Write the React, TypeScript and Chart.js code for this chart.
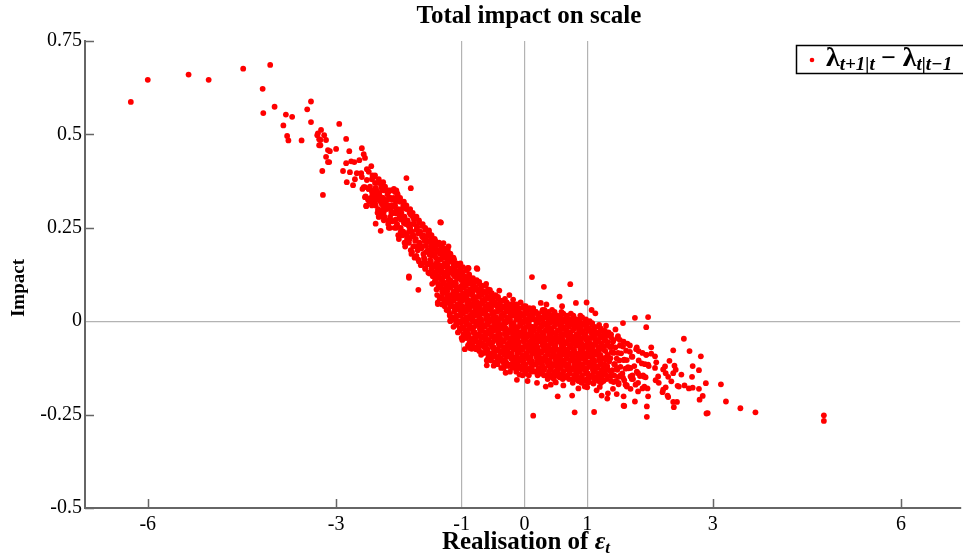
import React, { useEffect, useRef } from "react";
import { Chart, registerables } from "chart.js";

Chart.register(...registerables);

const titleText = "Total impact on scale";
const yAxisTitle = "Impact";
const xAxisTitle = "Realisation of ";
const xTicks = [-6, -3, -1, 0, 1, 3, 6];
const yTicks = [-0.5, -0.25, 0, 0.25, 0.5, 0.75];
const xGridValues = [-1, 0, 1];
const yGridValues = [0];

// far left sparse points
const farLeft: [number, number][] = [
  [-6.27, 0.587], [-6.0, 0.646], [-5.35, 0.66], [-5.03, 0.646], [-4.48, 0.676], [-4.05, 0.686],
  [-4.17, 0.622], [-4.16, 0.557], [-3.98, 0.574], [-3.8, 0.553], [-3.7, 0.547], [-3.84, 0.524],
  [-3.78, 0.496], [-3.76, 0.484], [-3.55, 0.484], [-3.46, 0.567], [-3.4, 0.588], [-3.4, 0.533],
];

// upper branch, -3.4 .. -2.0
const upperBranch: [number, number][] = [
  [-3.24, 0.512], [-3.19, 0.498], [-3.3, 0.498], [-3.25, 0.485], [-3.16, 0.485], [-3.25, 0.471],
  [-3.13, 0.458], [-3.1, 0.455], [-3.0, 0.461], [-3.16, 0.44], [-3.13, 0.426], [-3.22, 0.402],
  [-3.21, 0.338], [-2.95, 0.528], [-2.84, 0.488], [-2.79, 0.455], [-2.59, 0.463], [-2.56, 0.447],
  [-2.54, 0.437], [-2.84, 0.423], [-2.76, 0.428], [-2.71, 0.426], [-2.63, 0.431], [-2.89, 0.402],
  [-2.78, 0.399], [-2.83, 0.372], [-2.73, 0.364], [-2.7, 0.38], [-2.67, 0.396], [-2.6, 0.396],
  [-2.59, 0.386], [-2.51, 0.407], [-2.44, 0.415], [-2.51, 0.378], [-2.4, 0.386], [-2.25, 0.372],
  [-2.56, 0.359], [-2.48, 0.354], [-2.37, 0.356], [-2.27, 0.351], [-2.16, 0.348], [-2.06, 0.346],
  [-2.54, 0.332], [-2.49, 0.327], [-2.38, 0.335], [-2.38, 0.316], [-2.52, 0.308], [-2.25, 0.33],
  [-2.16, 0.327], [-2.27, 0.313], [-2.33, 0.297], [-2.24, 0.292], [-2.32, 0.279], [-2.13, 0.305],
  [-2.11, 0.289], [-2.05, 0.289], [-2.14, 0.279], [-3.29, 0.503], [-3.27, 0.487], [-3.27, 0.471],
  [-3.11, 0.426],
];

// band readings, -2.6 .. -0.7
const midBand: [number, number][] = [
  [-2.58, 0.354], [-2.54, 0.359], [-2.48, 0.354], [-2.43, 0.347], [-2.37, 0.356], [-2.34, 0.345],
  [-2.27, 0.359], [-2.22, 0.352], [-2.15, 0.35], [-2.08, 0.354], [-2.04, 0.35], [-2.03, 0.343],
  [-2.53, 0.334], [-2.49, 0.325], [-2.45, 0.33], [-2.4, 0.321], [-2.32, 0.325], [-2.26, 0.327],
  [-2.24, 0.316], [-2.19, 0.325], [-2.15, 0.33], [-2.11, 0.325], [-2.05, 0.321], [-1.99, 0.321],
  [-2.52, 0.309], [-2.32, 0.298], [-2.27, 0.294], [-2.24, 0.303], [-2.16, 0.309], [-2.13, 0.3],
  [-2.08, 0.307], [-2.05, 0.294], [-2.0, 0.298], [-1.96, 0.3], [-1.88, 0.383], [-1.81, 0.356],
  [-2.32, 0.28], [-2.37, 0.261], [-2.29, 0.242], [-2.16, 0.25], [-2.11, 0.267], [-2.05, 0.272],
  [-2.03, 0.258], [-1.97, 0.272], [-1.92, 0.263], [-1.84, 0.254], [-1.81, 0.285], [-1.76, 0.272],
  [-1.71, 0.254], [-1.84, 0.24], [-1.89, 0.232], [-1.79, 0.227], [-1.68, 0.236], [-1.63, 0.227],
  [-1.52, 0.243], [-1.58, 0.218], [-1.5, 0.214], [-1.42, 0.205], [-1.34, 0.265], [-1.29, 0.209],
  [-1.23, 0.191], [-1.15, 0.169], [-1.13, 0.151], [-1.05, 0.133], [-1.84, 0.12], [-0.89, 0.142],
  [-0.76, 0.142], [-1.84, 0.116], [-1.69, 0.084], [-1.38, 0.046], [-1.18, 0.002], [-1.33, 0.264],
];

// dense band, first layer (strips centred on x.x5)
const denseBand: [number, number][] = [
  [-2.48, 0.4], [-2.43, 0.38], [-2.46, 0.36], [-2.42, 0.34], [-2.47, 0.32],
  [-2.38, 0.39], [-2.33, 0.37], [-2.36, 0.35], [-2.32, 0.33], [-2.37, 0.31], [-2.34, 0.29],
  [-2.28, 0.37], [-2.23, 0.35], [-2.26, 0.33], [-2.22, 0.31], [-2.27, 0.29], [-2.24, 0.27],
  [-2.18, 0.35], [-2.13, 0.33], [-2.16, 0.31], [-2.12, 0.29], [-2.17, 0.27], [-2.14, 0.25],
  [-2.08, 0.35], [-2.03, 0.33], [-2.06, 0.31], [-2.02, 0.29], [-2.07, 0.27], [-2.04, 0.25], [-2.01, 0.23],
  [-1.98, 0.33], [-1.93, 0.31], [-1.96, 0.29], [-1.92, 0.27], [-1.97, 0.25], [-1.94, 0.23], [-1.91, 0.21],
  [-1.88, 0.31], [-1.83, 0.29], [-1.86, 0.27], [-1.82, 0.25], [-1.87, 0.23], [-1.84, 0.21], [-1.81, 0.19],
  [-1.78, 0.29], [-1.73, 0.275], [-1.76, 0.26], [-1.72, 0.245], [-1.77, 0.23], [-1.74, 0.215], [-1.71, 0.2], [-1.79, 0.185], [-1.75, 0.17],
  [-1.68, 0.27], [-1.63, 0.255], [-1.66, 0.24], [-1.62, 0.225], [-1.67, 0.21], [-1.64, 0.195], [-1.61, 0.18], [-1.69, 0.165], [-1.65, 0.15],
  [-1.58, 0.25], [-1.53, 0.238], [-1.56, 0.226], [-1.52, 0.214], [-1.57, 0.202], [-1.54, 0.19], [-1.51, 0.178], [-1.59, 0.166], [-1.55, 0.154], [-1.58, 0.142], [-1.53, 0.13],
  [-1.48, 0.23], [-1.43, 0.22], [-1.46, 0.21], [-1.42, 0.2], [-1.47, 0.19], [-1.44, 0.18], [-1.41, 0.17], [-1.49, 0.16], [-1.45, 0.15], [-1.48, 0.14], [-1.43, 0.13], [-1.46, 0.12], [-1.42, 0.11], [-1.47, 0.1],
  [-1.36, 0.21], [-1.32, 0.2], [-1.37, 0.19], [-1.34, 0.18], [-1.31, 0.17], [-1.39, 0.16], [-1.35, 0.15], [-1.38, 0.14], [-1.33, 0.13], [-1.36, 0.12], [-1.32, 0.11], [-1.37, 0.1], [-1.34, 0.09], [-1.31, 0.08], [-1.39, 0.07], [-1.35, 0.06], [-1.38, 0.05],
  [-1.21, 0.2], [-1.29, 0.19], [-1.25, 0.18], [-1.28, 0.17], [-1.23, 0.16], [-1.26, 0.15], [-1.22, 0.14], [-1.27, 0.13], [-1.24, 0.12], [-1.21, 0.11], [-1.29, 0.1], [-1.25, 0.09], [-1.28, 0.08], [-1.23, 0.07], [-1.26, 0.06], [-1.22, 0.05], [-1.27, 0.04], [-1.24, 0.03],
  [-1.18, 0.18], [-1.13, 0.17], [-1.16, 0.16], [-1.12, 0.15], [-1.17, 0.14], [-1.14, 0.13], [-1.11, 0.12], [-1.19, 0.11], [-1.15, 0.1], [-1.18, 0.09], [-1.13, 0.08], [-1.16, 0.07], [-1.12, 0.06], [-1.17, 0.05], [-1.14, 0.04], [-1.11, 0.03], [-1.19, 0.02], [-1.15, 0.01], [-1.18, 0.0],
  [-1.06, 0.15], [-1.02, 0.14], [-1.07, 0.13], [-1.04, 0.12], [-1.01, 0.11], [-1.09, 0.1], [-1.05, 0.09], [-1.08, 0.08], [-1.03, 0.07], [-1.06, 0.06], [-1.02, 0.05], [-1.07, 0.04], [-1.04, 0.03], [-1.01, 0.02], [-1.09, 0.01], [-1.05, 0.0], [-1.08, -0.01], [-1.03, -0.02], [-1.06, -0.03],
  [-0.91, 0.14], [-0.99, 0.13], [-0.95, 0.12], [-0.98, 0.11], [-0.93, 0.1], [-0.96, 0.09], [-0.92, 0.08], [-0.97, 0.07], [-0.94, 0.06], [-0.91, 0.05], [-0.99, 0.04], [-0.95, 0.03], [-0.98, 0.02], [-0.93, 0.01], [-0.96, 0.0], [-0.92, -0.01], [-0.97, -0.02], [-0.94, -0.03], [-0.91, -0.04], [-0.99, -0.05],
  [-0.88, 0.12], [-0.83, 0.11], [-0.86, 0.1], [-0.82, 0.09], [-0.87, 0.08], [-0.84, 0.07], [-0.81, 0.06], [-0.89, 0.05], [-0.85, 0.04], [-0.88, 0.03], [-0.83, 0.02], [-0.86, 0.01], [-0.82, 0.0], [-0.87, -0.01], [-0.84, -0.02], [-0.81, -0.03], [-0.89, -0.04], [-0.85, -0.05], [-0.88, -0.06], [-0.83, -0.07],
  [-0.76, 0.11], [-0.72, 0.1], [-0.77, 0.09], [-0.74, 0.08], [-0.71, 0.07], [-0.79, 0.06], [-0.75, 0.05], [-0.78, 0.04], [-0.73, 0.03], [-0.76, 0.02], [-0.72, 0.01], [-0.77, 0.0], [-0.74, -0.01], [-0.71, -0.02], [-0.79, -0.03], [-0.75, -0.04], [-0.78, -0.05], [-0.73, -0.06], [-0.76, -0.07], [-0.72, -0.08],
  [-0.61, 0.1], [-0.69, 0.09], [-0.65, 0.08], [-0.68, 0.07], [-0.63, 0.06], [-0.66, 0.05], [-0.62, 0.04], [-0.67, 0.03], [-0.64, 0.02], [-0.61, 0.01], [-0.69, 0.0], [-0.65, -0.01], [-0.68, -0.02], [-0.63, -0.03], [-0.66, -0.04], [-0.62, -0.05], [-0.67, -0.06], [-0.64, -0.07], [-0.61, -0.08], [-0.69, -0.09],
  [-0.58, 0.08], [-0.53, 0.07], [-0.56, 0.06], [-0.52, 0.05], [-0.57, 0.04], [-0.54, 0.03], [-0.51, 0.02], [-0.59, 0.01], [-0.55, 0.0], [-0.58, -0.01], [-0.53, -0.02], [-0.56, -0.03], [-0.52, -0.04], [-0.57, -0.05], [-0.54, -0.06], [-0.51, -0.07], [-0.59, -0.08], [-0.55, -0.09], [-0.58, -0.1],
  [-0.46, 0.07], [-0.42, 0.06], [-0.47, 0.05], [-0.44, 0.04], [-0.41, 0.03], [-0.49, 0.02], [-0.45, 0.01], [-0.48, 0.0], [-0.43, -0.01], [-0.46, -0.02], [-0.42, -0.03], [-0.47, -0.04], [-0.44, -0.05], [-0.41, -0.06], [-0.49, -0.07], [-0.45, -0.08], [-0.48, -0.09], [-0.43, -0.1], [-0.46, -0.11],
  [-0.31, 0.06], [-0.39, 0.05], [-0.35, 0.04], [-0.38, 0.03], [-0.33, 0.02], [-0.36, 0.01], [-0.32, 0.0], [-0.37, -0.01], [-0.34, -0.02], [-0.31, -0.03], [-0.39, -0.04], [-0.35, -0.05], [-0.38, -0.06], [-0.33, -0.07], [-0.36, -0.08], [-0.32, -0.09], [-0.37, -0.1], [-0.34, -0.11], [-0.31, -0.12],
  [-0.28, 0.05], [-0.23, 0.04], [-0.26, 0.03], [-0.22, 0.02], [-0.27, 0.01], [-0.24, 0.0], [-0.21, -0.01], [-0.29, -0.02], [-0.25, -0.03], [-0.28, -0.04], [-0.23, -0.05], [-0.26, -0.06], [-0.22, -0.07], [-0.27, -0.08], [-0.24, -0.09], [-0.21, -0.1], [-0.29, -0.11], [-0.25, -0.12],
  [-0.16, 0.045], [-0.12, 0.035], [-0.17, 0.025], [-0.14, 0.015], [-0.11, 0.005], [-0.19, -0.005], [-0.15, -0.015], [-0.18, -0.025], [-0.13, -0.035], [-0.16, -0.045], [-0.12, -0.055], [-0.17, -0.065], [-0.14, -0.075], [-0.11, -0.085], [-0.19, -0.095], [-0.15, -0.105], [-0.18, -0.115], [-0.13, -0.125],
  [-0.01, 0.04], [-0.09, 0.03], [-0.05, 0.02], [-0.08, 0.01], [-0.03, 0.0], [-0.06, -0.01], [-0.02, -0.02], [-0.07, -0.03], [-0.04, -0.04], [-0.01, -0.05], [-0.09, -0.06], [-0.05, -0.07], [-0.08, -0.08], [-0.03, -0.09], [-0.06, -0.1], [-0.02, -0.11], [-0.07, -0.12], [-0.04, -0.13],
  [0.02, 0.04], [0.07, 0.03], [0.04, 0.02], [0.08, 0.01], [0.03, 0.0], [0.06, -0.01], [0.09, -0.02], [0.01, -0.03], [0.05, -0.04], [0.02, -0.05], [0.07, -0.06], [0.04, -0.07], [0.08, -0.08], [0.03, -0.09], [0.06, -0.1], [0.09, -0.11], [0.01, -0.12], [0.05, -0.13], [0.02, -0.14],
  [0.14, 0.035], [0.18, 0.025], [0.13, 0.015], [0.16, 0.005], [0.19, -0.005], [0.11, -0.015], [0.15, -0.025], [0.12, -0.035], [0.17, -0.045], [0.14, -0.055], [0.18, -0.065], [0.13, -0.075], [0.16, -0.085], [0.19, -0.095], [0.11, -0.105], [0.15, -0.115], [0.12, -0.125], [0.17, -0.135],
  [0.29, 0.03], [0.21, 0.02], [0.25, 0.01], [0.22, 0.0], [0.27, -0.01], [0.24, -0.02], [0.28, -0.03], [0.23, -0.04], [0.26, -0.05], [0.29, -0.06], [0.21, -0.07], [0.25, -0.08], [0.22, -0.09], [0.27, -0.1], [0.24, -0.11], [0.28, -0.12], [0.23, -0.13], [0.26, -0.14],
  [0.32, 0.03], [0.37, 0.02], [0.34, 0.01], [0.38, 0.0], [0.33, -0.01], [0.36, -0.02], [0.39, -0.03], [0.31, -0.04], [0.35, -0.05], [0.32, -0.06], [0.37, -0.07], [0.34, -0.08], [0.38, -0.09], [0.33, -0.1], [0.36, -0.11], [0.39, -0.12], [0.31, -0.13], [0.35, -0.145],
  [0.44, 0.03], [0.48, 0.02], [0.43, 0.01], [0.46, 0.0], [0.49, -0.01], [0.41, -0.02], [0.45, -0.03], [0.42, -0.04], [0.47, -0.05], [0.44, -0.06], [0.48, -0.07], [0.43, -0.08], [0.46, -0.09], [0.49, -0.1], [0.41, -0.11], [0.45, -0.12], [0.42, -0.13], [0.47, -0.14], [0.44, -0.15],
  [0.59, 0.025], [0.51, 0.015], [0.55, 0.005], [0.52, -0.005], [0.57, -0.015], [0.54, -0.025], [0.58, -0.035], [0.53, -0.045], [0.56, -0.055], [0.59, -0.065], [0.51, -0.075], [0.55, -0.085], [0.52, -0.095], [0.57, -0.105], [0.54, -0.115], [0.58, -0.125], [0.53, -0.135], [0.56, -0.15],
  [0.62, 0.02], [0.67, 0.01], [0.64, 0.0], [0.68, -0.01], [0.63, -0.02], [0.66, -0.03], [0.69, -0.04], [0.61, -0.05], [0.65, -0.06], [0.62, -0.07], [0.67, -0.08], [0.64, -0.09], [0.68, -0.1], [0.63, -0.11], [0.66, -0.12], [0.69, -0.13], [0.61, -0.14], [0.65, -0.15],
  [0.74, 0.02], [0.78, 0.01], [0.73, 0.0], [0.76, -0.01], [0.79, -0.02], [0.71, -0.03], [0.75, -0.04], [0.72, -0.05], [0.77, -0.06], [0.74, -0.07], [0.78, -0.08], [0.73, -0.09], [0.76, -0.1], [0.79, -0.11], [0.71, -0.12], [0.75, -0.13], [0.72, -0.14], [0.77, -0.155],
  [0.89, 0.015], [0.81, 0.005], [0.85, -0.005], [0.82, -0.015], [0.87, -0.025], [0.84, -0.035], [0.88, -0.045], [0.83, -0.055], [0.86, -0.065], [0.89, -0.075], [0.81, -0.085], [0.85, -0.095], [0.82, -0.105], [0.87, -0.115], [0.84, -0.125], [0.88, -0.135], [0.83, -0.145], [0.86, -0.16],
  [0.92, 0.01], [0.97, 0.0], [0.94, -0.01], [0.98, -0.02], [0.93, -0.03], [0.96, -0.04], [0.99, -0.05], [0.91, -0.06], [0.95, -0.07], [0.92, -0.08], [0.97, -0.09], [0.94, -0.1], [0.98, -0.11], [0.93, -0.12], [0.96, -0.13], [0.99, -0.14], [0.91, -0.15], [0.95, -0.16],
  [1.04, 0.0], [1.08, -0.01], [1.03, -0.02], [1.06, -0.03], [1.09, -0.04], [1.01, -0.05], [1.05, -0.06], [1.02, -0.07], [1.07, -0.08], [1.04, -0.09], [1.08, -0.1], [1.03, -0.11], [1.06, -0.12], [1.09, -0.13], [1.01, -0.14], [1.05, -0.15], [1.02, -0.16],
  [1.19, -0.01], [1.11, -0.02], [1.15, -0.03], [1.12, -0.04], [1.17, -0.05], [1.14, -0.06], [1.18, -0.07], [1.13, -0.08], [1.16, -0.09], [1.19, -0.1], [1.11, -0.11], [1.15, -0.12], [1.12, -0.13], [1.17, -0.14], [1.14, -0.15], [1.18, -0.16],
  [1.22, -0.02], [1.27, -0.03], [1.24, -0.04], [1.28, -0.05], [1.23, -0.06], [1.26, -0.07], [1.29, -0.08], [1.21, -0.09], [1.25, -0.1], [1.22, -0.11], [1.27, -0.12], [1.24, -0.13], [1.28, -0.14], [1.23, -0.15], [1.26, -0.16],
  [1.34, -0.03], [1.38, -0.043], [1.33, -0.056], [1.36, -0.069], [1.39, -0.082], [1.31, -0.095], [1.35, -0.108], [1.32, -0.121], [1.37, -0.134], [1.34, -0.147], [1.38, -0.16],
  [1.49, -0.04], [1.41, -0.055], [1.45, -0.07], [1.42, -0.085], [1.47, -0.1], [1.44, -0.115], [1.48, -0.13], [1.43, -0.145], [1.46, -0.16],
  [1.52, -0.05], [1.57, -0.068], [1.54, -0.086], [1.58, -0.104], [1.53, -0.122], [1.56, -0.14], [1.59, -0.158],
  [1.64, -0.06], [1.68, -0.082], [1.63, -0.104], [1.66, -0.126], [1.69, -0.148], [1.61, -0.17],
  [1.79, -0.07], [1.71, -0.095], [1.75, -0.12], [1.72, -0.145], [1.77, -0.17],
  [1.82, -0.08], [1.87, -0.113], [1.84, -0.147], [1.88, -0.18],
  [1.94, -0.09], [1.98, -0.12], [1.93, -0.15], [1.96, -0.18],
];

// dense band, second layer (strips centred on x.x0)
const denseBand2: [number, number][] = [
  [-2.42, 0.39], [-2.38, 0.37], [-2.41, 0.35], [-2.39, 0.33], [-2.43, 0.31],
  [-2.32, 0.38], [-2.28, 0.36], [-2.31, 0.34], [-2.29, 0.32], [-2.33, 0.3], [-2.27, 0.28],
  [-2.22, 0.36], [-2.18, 0.34], [-2.21, 0.32], [-2.19, 0.3], [-2.23, 0.28], [-2.17, 0.26],
  [-2.12, 0.35], [-2.08, 0.33], [-2.11, 0.31], [-2.09, 0.29], [-2.13, 0.27], [-2.07, 0.25],
  [-2.02, 0.34], [-1.98, 0.32], [-2.01, 0.3], [-1.99, 0.28], [-2.03, 0.26], [-1.97, 0.24], [-2.0, 0.22],
  [-1.92, 0.32], [-1.88, 0.3], [-1.91, 0.28], [-1.89, 0.26], [-1.93, 0.24], [-1.87, 0.22], [-1.9, 0.2],
  [-1.82, 0.3], [-1.78, 0.28], [-1.81, 0.26], [-1.79, 0.24], [-1.83, 0.22], [-1.77, 0.2], [-1.8, 0.18],
  [-1.72, 0.28], [-1.68, 0.265], [-1.71, 0.25], [-1.69, 0.235], [-1.73, 0.22], [-1.67, 0.205], [-1.7, 0.19], [-1.72, 0.175], [-1.68, 0.16],
  [-1.62, 0.26], [-1.58, 0.245], [-1.61, 0.23], [-1.59, 0.215], [-1.63, 0.2], [-1.57, 0.185], [-1.6, 0.17], [-1.62, 0.155], [-1.58, 0.14],
  [-1.52, 0.236], [-1.48, 0.224], [-1.51, 0.212], [-1.49, 0.2], [-1.53, 0.188], [-1.47, 0.176], [-1.5, 0.164], [-1.52, 0.152], [-1.48, 0.14], [-1.51, 0.128],
  [-1.42, 0.215], [-1.38, 0.205], [-1.41, 0.195], [-1.39, 0.185], [-1.43, 0.175], [-1.37, 0.165], [-1.4, 0.155], [-1.42, 0.145], [-1.38, 0.135], [-1.41, 0.125], [-1.39, 0.115], [-1.43, 0.105], [-1.37, 0.095], [-1.4, 0.085],
  [-1.32, 0.205], [-1.28, 0.195], [-1.31, 0.185], [-1.29, 0.175], [-1.33, 0.165], [-1.27, 0.155], [-1.3, 0.145], [-1.32, 0.135], [-1.28, 0.125], [-1.31, 0.115], [-1.29, 0.105], [-1.33, 0.095], [-1.27, 0.085], [-1.3, 0.075], [-1.32, 0.065], [-1.28, 0.055], [-1.31, 0.045],
  [-1.22, 0.19], [-1.18, 0.18], [-1.21, 0.17], [-1.19, 0.16], [-1.23, 0.15], [-1.17, 0.14], [-1.2, 0.13], [-1.22, 0.12], [-1.18, 0.11], [-1.21, 0.1], [-1.19, 0.09], [-1.23, 0.08], [-1.17, 0.07], [-1.2, 0.06], [-1.22, 0.05], [-1.18, 0.04], [-1.21, 0.03], [-1.19, 0.015],
  [-1.12, 0.165], [-1.08, 0.155], [-1.11, 0.145], [-1.09, 0.135], [-1.13, 0.125], [-1.07, 0.115], [-1.1, 0.105], [-1.12, 0.095], [-1.08, 0.085], [-1.11, 0.075], [-1.09, 0.065], [-1.13, 0.055], [-1.07, 0.045], [-1.1, 0.035], [-1.12, 0.025], [-1.08, 0.015], [-1.11, 0.005], [-1.09, -0.005], [-1.13, -0.015],
  [-1.02, 0.155], [-0.98, 0.145], [-1.01, 0.135], [-0.99, 0.125], [-1.03, 0.115], [-0.97, 0.105], [-1.0, 0.095], [-1.02, 0.085], [-0.98, 0.075], [-1.01, 0.065], [-0.99, 0.055], [-1.03, 0.045], [-0.97, 0.035], [-1.0, 0.025], [-1.02, 0.015], [-0.98, 0.005], [-1.01, -0.005], [-0.99, -0.015], [-1.03, -0.025], [-0.97, -0.035], [-1.0, -0.045],
  [-0.92, 0.135], [-0.88, 0.125], [-0.91, 0.115], [-0.89, 0.105], [-0.93, 0.095], [-0.87, 0.085], [-0.9, 0.075], [-0.92, 0.065], [-0.88, 0.055], [-0.91, 0.045], [-0.89, 0.035], [-0.93, 0.025], [-0.87, 0.015], [-0.9, 0.005], [-0.92, -0.005], [-0.88, -0.015], [-0.91, -0.025], [-0.89, -0.035], [-0.93, -0.045], [-0.87, -0.055], [-0.9, -0.065],
  [-0.82, 0.115], [-0.78, 0.105], [-0.81, 0.095], [-0.79, 0.085], [-0.83, 0.075], [-0.77, 0.065], [-0.8, 0.055], [-0.82, 0.045], [-0.78, 0.035], [-0.81, 0.025], [-0.79, 0.015], [-0.83, 0.005], [-0.77, -0.005], [-0.8, -0.015], [-0.82, -0.025], [-0.78, -0.035], [-0.81, -0.045], [-0.79, -0.055], [-0.83, -0.065], [-0.77, -0.075],
  [-0.72, 0.105], [-0.68, 0.095], [-0.71, 0.085], [-0.69, 0.075], [-0.73, 0.065], [-0.67, 0.055], [-0.7, 0.045], [-0.72, 0.035], [-0.68, 0.025], [-0.71, 0.015], [-0.69, 0.005], [-0.73, -0.005], [-0.67, -0.015], [-0.7, -0.025], [-0.72, -0.035], [-0.68, -0.045], [-0.71, -0.055], [-0.69, -0.065], [-0.73, -0.075], [-0.67, -0.085],
  [-0.62, 0.095], [-0.58, 0.085], [-0.61, 0.075], [-0.59, 0.065], [-0.63, 0.055], [-0.57, 0.045], [-0.6, 0.035], [-0.62, 0.025], [-0.58, 0.015], [-0.61, 0.005], [-0.59, -0.005], [-0.63, -0.015], [-0.57, -0.025], [-0.6, -0.035], [-0.62, -0.045], [-0.58, -0.055], [-0.61, -0.065], [-0.59, -0.075], [-0.63, -0.085], [-0.57, -0.095], [-0.6, -0.105],
  [-0.52, 0.075], [-0.48, 0.065], [-0.51, 0.055], [-0.49, 0.045], [-0.53, 0.035], [-0.47, 0.025], [-0.5, 0.015], [-0.52, 0.005], [-0.48, -0.005], [-0.51, -0.015], [-0.49, -0.025], [-0.53, -0.035], [-0.47, -0.045], [-0.5, -0.055], [-0.52, -0.065], [-0.48, -0.075], [-0.51, -0.085], [-0.49, -0.095], [-0.53, -0.105], [-0.47, -0.115],
  [-0.42, 0.065], [-0.38, 0.055], [-0.41, 0.045], [-0.39, 0.035], [-0.43, 0.025], [-0.37, 0.015], [-0.4, 0.005], [-0.42, -0.005], [-0.38, -0.015], [-0.41, -0.025], [-0.39, -0.035], [-0.43, -0.045], [-0.37, -0.055], [-0.4, -0.065], [-0.42, -0.075], [-0.38, -0.085], [-0.41, -0.095], [-0.39, -0.105], [-0.43, -0.115], [-0.37, -0.125],
  [-0.32, 0.055], [-0.28, 0.045], [-0.31, 0.035], [-0.29, 0.025], [-0.33, 0.015], [-0.27, 0.005], [-0.3, -0.005], [-0.32, -0.015], [-0.28, -0.025], [-0.31, -0.035], [-0.29, -0.045], [-0.33, -0.055], [-0.27, -0.065], [-0.3, -0.075], [-0.32, -0.085], [-0.28, -0.095], [-0.31, -0.105], [-0.29, -0.115], [-0.33, -0.125],
  [-0.22, 0.045], [-0.18, 0.035], [-0.21, 0.025], [-0.19, 0.015], [-0.23, 0.005], [-0.17, -0.005], [-0.2, -0.015], [-0.22, -0.025], [-0.18, -0.035], [-0.21, -0.045], [-0.19, -0.055], [-0.23, -0.065], [-0.17, -0.075], [-0.2, -0.085], [-0.22, -0.095], [-0.18, -0.105], [-0.21, -0.115], [-0.19, -0.125], [-0.23, -0.135],
  [-0.12, 0.045], [-0.08, 0.035], [-0.11, 0.025], [-0.09, 0.015], [-0.13, 0.005], [-0.07, -0.005], [-0.1, -0.015], [-0.12, -0.025], [-0.08, -0.035], [-0.11, -0.045], [-0.09, -0.055], [-0.13, -0.065], [-0.07, -0.075], [-0.1, -0.085], [-0.12, -0.095], [-0.08, -0.105], [-0.11, -0.115], [-0.09, -0.125], [-0.13, -0.135],
  [-0.02, 0.035], [0.02, 0.025], [-0.01, 0.015], [0.01, 0.005], [-0.03, -0.005], [0.03, -0.015], [0.0, -0.025], [-0.02, -0.035], [0.02, -0.045], [-0.01, -0.055], [0.01, -0.065], [-0.03, -0.075], [0.03, -0.085], [0.0, -0.095], [-0.02, -0.105], [0.02, -0.115], [-0.01, -0.125], [0.01, -0.135], [-0.03, -0.145],
  [0.08, 0.035], [0.12, 0.025], [0.09, 0.015], [0.11, 0.005], [0.07, -0.005], [0.13, -0.015], [0.1, -0.025], [0.08, -0.035], [0.12, -0.045], [0.09, -0.055], [0.11, -0.065], [0.07, -0.075], [0.13, -0.085], [0.1, -0.095], [0.08, -0.105], [0.12, -0.115], [0.09, -0.125], [0.11, -0.135], [0.07, -0.145],
  [0.18, 0.025], [0.22, 0.015], [0.19, 0.005], [0.21, -0.005], [0.17, -0.015], [0.23, -0.025], [0.2, -0.035], [0.18, -0.045], [0.22, -0.055], [0.19, -0.065], [0.21, -0.075], [0.17, -0.085], [0.23, -0.095], [0.2, -0.105], [0.18, -0.115], [0.22, -0.125], [0.19, -0.135], [0.21, -0.145],
  [0.28, 0.025], [0.32, 0.015], [0.29, 0.005], [0.31, -0.005], [0.27, -0.015], [0.33, -0.025], [0.3, -0.035], [0.28, -0.045], [0.32, -0.055], [0.29, -0.065], [0.31, -0.075], [0.27, -0.085], [0.33, -0.095], [0.3, -0.105], [0.28, -0.115], [0.32, -0.125], [0.29, -0.135], [0.31, -0.145],
  [0.38, 0.025], [0.42, 0.015], [0.39, 0.005], [0.41, -0.005], [0.37, -0.015], [0.43, -0.025], [0.4, -0.035], [0.38, -0.045], [0.42, -0.055], [0.39, -0.065], [0.41, -0.075], [0.37, -0.085], [0.43, -0.095], [0.4, -0.105], [0.38, -0.115], [0.42, -0.125], [0.39, -0.135], [0.41, -0.145], [0.37, -0.155],
  [0.48, 0.025], [0.52, 0.015], [0.49, 0.005], [0.51, -0.005], [0.47, -0.015], [0.53, -0.025], [0.5, -0.035], [0.48, -0.045], [0.52, -0.055], [0.49, -0.065], [0.51, -0.075], [0.47, -0.085], [0.53, -0.095], [0.5, -0.105], [0.48, -0.115], [0.52, -0.125], [0.49, -0.135], [0.51, -0.145], [0.47, -0.155],
  [0.58, 0.015], [0.62, 0.005], [0.59, -0.005], [0.61, -0.015], [0.57, -0.025], [0.63, -0.035], [0.6, -0.045], [0.58, -0.055], [0.62, -0.065], [0.59, -0.075], [0.61, -0.085], [0.57, -0.095], [0.63, -0.105], [0.6, -0.115], [0.58, -0.125], [0.62, -0.135], [0.59, -0.145], [0.61, -0.155],
  [0.68, 0.015], [0.72, 0.005], [0.69, -0.005], [0.71, -0.015], [0.67, -0.025], [0.73, -0.035], [0.7, -0.045], [0.68, -0.055], [0.72, -0.065], [0.69, -0.075], [0.71, -0.085], [0.67, -0.095], [0.73, -0.105], [0.7, -0.115], [0.68, -0.125], [0.72, -0.135], [0.69, -0.145], [0.71, -0.155],
  [0.78, 0.015], [0.82, 0.005], [0.79, -0.005], [0.81, -0.015], [0.77, -0.025], [0.83, -0.035], [0.8, -0.045], [0.78, -0.055], [0.82, -0.065], [0.79, -0.075], [0.81, -0.085], [0.77, -0.095], [0.83, -0.105], [0.8, -0.115], [0.78, -0.125], [0.82, -0.135], [0.79, -0.145], [0.81, -0.155], [0.77, -0.165],
  [0.88, 0.005], [0.92, -0.005], [0.89, -0.015], [0.91, -0.025], [0.87, -0.035], [0.93, -0.045], [0.9, -0.055], [0.88, -0.065], [0.92, -0.075], [0.89, -0.085], [0.91, -0.095], [0.87, -0.105], [0.93, -0.115], [0.9, -0.125], [0.88, -0.135], [0.92, -0.145], [0.89, -0.155], [0.91, -0.165],
  [0.98, 0.005], [1.02, -0.005], [0.99, -0.015], [1.01, -0.025], [0.97, -0.035], [1.03, -0.045], [1.0, -0.055], [0.98, -0.065], [1.02, -0.075], [0.99, -0.085], [1.01, -0.095], [0.97, -0.105], [1.03, -0.115], [1.0, -0.125], [0.98, -0.135], [1.02, -0.145], [0.99, -0.155], [1.01, -0.165],
  [1.08, -0.005], [1.12, -0.015], [1.09, -0.025], [1.11, -0.035], [1.07, -0.045], [1.13, -0.055], [1.1, -0.065], [1.08, -0.075], [1.12, -0.085], [1.09, -0.095], [1.11, -0.105], [1.07, -0.115], [1.13, -0.125], [1.1, -0.135], [1.08, -0.145], [1.12, -0.155], [1.09, -0.165],
  [1.18, -0.015], [1.22, -0.025], [1.19, -0.035], [1.21, -0.045], [1.17, -0.055], [1.23, -0.065], [1.2, -0.075], [1.18, -0.085], [1.22, -0.095], [1.19, -0.105], [1.21, -0.115], [1.17, -0.125], [1.23, -0.135], [1.2, -0.145], [1.18, -0.155], [1.22, -0.165],
  [1.28, -0.025], [1.32, -0.038], [1.29, -0.051], [1.31, -0.064], [1.27, -0.077], [1.33, -0.09], [1.3, -0.103], [1.28, -0.116], [1.32, -0.129], [1.29, -0.142], [1.31, -0.155],
  [1.38, -0.035], [1.42, -0.051], [1.39, -0.067], [1.41, -0.083], [1.37, -0.099], [1.43, -0.115], [1.4, -0.131], [1.38, -0.147], [1.42, -0.163],
  [1.48, -0.045], [1.52, -0.065], [1.49, -0.085], [1.51, -0.105], [1.47, -0.125], [1.53, -0.145], [1.5, -0.165],
  [1.58, -0.055], [1.62, -0.079], [1.59, -0.103], [1.61, -0.127], [1.57, -0.151], [1.63, -0.175],
  [1.68, -0.065], [1.72, -0.095], [1.69, -0.125], [1.71, -0.155],
  [1.78, -0.075], [1.82, -0.105], [1.79, -0.135], [1.81, -0.165],
  [1.88, -0.085], [1.92, -0.115], [1.89, -0.145], [1.91, -0.175],
];

// scattered points around the core and the right tail
const coreOutliers: [number, number][] = [
  [0.12, 0.118], [0.31, 0.092], [0.73, 0.099], [0.56, 0.066], [-0.06, 0.05], [-0.75, 0.14],
  [-0.9, 0.143], [-0.24, 0.07], [-0.4, 0.082], [-0.55, 0.084], [0.82, 0.049], [0.99, 0.05],
  [0.26, 0.049], [0.35, 0.045], [1.07, 0.03], [1.13, 0.021], [-0.49, -0.119], [-0.87, -0.072],
  [-0.84, -0.074], [-0.12, -0.157], [-0.08, -0.143], [0.34, -0.175], [0.53, -0.201], [0.76, -0.199],
  [1.0, -0.177], [1.23, -0.199], [1.32, -0.207], [1.58, -0.201], [1.58, -0.226], [1.2, -0.176],
  [1.47, -0.195], [1.1, -0.167], [1.41, -0.181], [0.5, -0.164], [0.96, -0.175], [0.14, -0.253],
  [0.8, -0.244], [1.11, -0.243], [0.05, -0.16], [0.2, -0.165], [0.42, -0.17], [0.62, -0.172],
  [0.86, -0.18], [1.15, -0.185], [-0.3, -0.138], [-0.6, -0.118], [-0.95, -0.075], [0.6, 0.04],
  [-0.18, 0.058], [1.3, -0.012], [1.45, -0.022],
];

const rightTail: [number, number][] = [
  [1.57, -0.005], [1.76, 0.009], [1.97, 0.011], [1.94, -0.016], [2.54, -0.047], [2.37, -0.078],
  [2.63, -0.08], [2.81, -0.094], [2.31, -0.106], [2.68, -0.12], [2.78, -0.131], [2.41, -0.13],
  [2.67, -0.149], [2.89, -0.166], [2.84, -0.2], [2.79, -0.21], [2.46, -0.175], [2.55, -0.172],
  [2.62, -0.18], [2.68, -0.178], [2.78, -0.181], [2.29, -0.203], [2.37, -0.216], [2.43, -0.216],
  [2.38, -0.23], [1.95, -0.256], [1.95, -0.228], [1.97, -0.201], [1.59, -0.227], [1.76, -0.215],
  [2.2, -0.19], [2.25, -0.177], [2.09, -0.158], [2.14, -0.165], [2.29, -0.149], [2.21, -0.129],
  [2.37, -0.139], [2.02, -0.07], [2.08, -0.094], [2.24, -0.121], [2.25, -0.139], [2.13, -0.148],
  [2.39, -0.119], [2.5, -0.143], [2.44, -0.173], [2.34, -0.161], [2.28, -0.199], [2.21, -0.183],
  [1.69, -0.181], [1.81, -0.188], [1.63, -0.171], [1.5, -0.169], [1.33, -0.193], [1.73, -0.155],
  [1.81, -0.139], [1.97, -0.116], [2.1, -0.11], [2.02, -0.087], [1.94, -0.09], [2.08, -0.125],
  [1.9, -0.148], [1.65, -0.123], [1.5, -0.149],
];

const farRight: [number, number][] = [
  [3.13, -0.169], [3.21, -0.215], [2.92, -0.246], [2.9, -0.247], [3.44, -0.233], [3.68, -0.244],
  [4.77, -0.252], [4.77, -0.267],
];

const SERIF = '"Liberation Serif", "Times New Roman", serif';

type Run = { t: string; f: string; dy?: number };

function drawRuns(ctx: CanvasRenderingContext2D, runs: Run[], x: number, baseline: number, measureOnly = false) {
  let cx = x;
  for (const r of runs) {
    ctx.font = r.f;
    if (!measureOnly) ctx.fillText(r.t, cx, baseline + (r.dy || 0));
    cx += ctx.measureText(r.t).width;
  }
  return cx - x;
}

const decorPlugin = {
  id: "decor",
  afterDraw(chart: any) {
    const { ctx, chartArea, scales } = chart;
    const { left, bottom } = chartArea;
    const xs = scales.x;
    const ys = scales.y;
    ctx.save();
    // inward tick marks
    ctx.strokeStyle = "#666";
    ctx.lineWidth = 1.5;
    ctx.beginPath();
    for (const v of xTicks) {
      if (xGridValues.includes(v)) continue;
      const px = Math.round(xs.getPixelForValue(v)) + 0.5;
      ctx.moveTo(px, bottom);
      ctx.lineTo(px, bottom - 9);
    }
    for (const v of yTicks) {
      if (yGridValues.includes(v)) continue;
      const py = Math.round(ys.getPixelForValue(v)) + 0.5;
      ctx.moveTo(left, py);
      ctx.lineTo(left + 9, py);
    }
    ctx.stroke();

    ctx.fillStyle = "#000";
    // title
    ctx.font = `bold 25px ${SERIF}`;
    ctx.textAlign = "center";
    ctx.textBaseline = "middle";
    ctx.fillText(titleText, 529, 17);

    // y axis title
    ctx.save();
    ctx.translate(19, 288);
    ctx.rotate(-Math.PI / 2);
    ctx.font = `bold 19px ${SERIF}`;
    ctx.fillText(yAxisTitle, 0, 0);
    ctx.restore();

    // x axis title
    ctx.textAlign = "left";
    ctx.textBaseline = "alphabetic";
    const xRuns: Run[] = [
      { t: xAxisTitle, f: `bold 25px ${SERIF}` },
      { t: "\u03b5", f: `italic bold 26px ${SERIF}` },
      { t: "t", f: `italic bold 17px ${SERIF}`, dy: 4 },
    ];
    const w = drawRuns(ctx, xRuns, 0, 0, true);
    drawRuns(ctx, xRuns, 526 - w / 2, 549);

    // legend
    ctx.strokeStyle = "#000";
    ctx.lineWidth = 1.5;
    ctx.fillStyle = "#fff";
    ctx.fillRect(796, 45, 175, 28);
    ctx.strokeRect(796.5, 45.5, 175, 28);
    ctx.fillStyle = "#ff0000";
    ctx.beginPath();
    ctx.arc(812, 60, 2.3, 0, Math.PI * 2);
    ctx.fill();
    ctx.fillStyle = "#000";
    const legRuns: Run[] = [
      { t: "\u03bb", f: `bold 28px ${SERIF}` },
      { t: "t+1|t", f: `italic bold 19px ${SERIF}`, dy: 4 },
      { t: " \u2212 ", f: `bold 26px ${SERIF}` },
      { t: "\u03bb", f: `bold 28px ${SERIF}` },
      { t: "t|t\u22121", f: `italic bold 19px ${SERIF}`, dy: 4 },
    ];
    drawRuns(ctx, legRuns, 826, 66);
    ctx.restore();
  },
};

export default function App() {
  const canvasRef = useRef<HTMLCanvasElement | null>(null);

  useEffect(() => {
    document.body.style.margin = "0";
    const canvas = canvasRef.current;
    if (!canvas) return;
    const all = [
      ...farLeft, ...upperBranch, ...midBand, ...denseBand, ...denseBand2,
      ...coreOutliers, ...rightTail, ...farRight,
    ];
    const chart = new Chart(canvas, {
      type: "scatter",
      data: {
        datasets: [
          {
            label: "lambda",
            data: all.map(([x, y]) => ({ x, y })),
            backgroundColor: "#ff0000",
            borderColor: "#ff0000",
            pointRadius: 2.9,
            pointBorderWidth: 0,
            pointHoverRadius: 2.9,
          },
        ],
      },
      options: {
        responsive: false,
        animation: false,
        devicePixelRatio: 1,
        layout: { padding: { top: 41, left: 0, right: 0, bottom: 0 } },
        plugins: {
          legend: { display: false },
          title: { display: false },
          tooltip: { enabled: false },
        },
        scales: {
          x: {
            type: "linear",
            min: -7,
            max: 6.94,
            afterBuildTicks: (s: any) => {
              s.ticks = xTicks.map((v) => ({ value: v }));
            },
            afterFit: (s: any) => {
              s.height = 45;
            },
            ticks: {
              autoSkip: false,
              maxRotation: 0,
              color: "#000",
              padding: 5,
              font: { family: SERIF, size: 20 },
              callback: (v: any) => String(v),
            },
            grid: {
              drawTicks: false,
              lineWidth: 1.2,
              color: (c: any) => (c.tick && xGridValues.includes(c.tick.value) ? "#b3b3b3" : "rgba(0,0,0,0)"),
            },
            border: { display: true, color: "#666", width: 2 },
          },
          y: {
            type: "linear",
            min: -0.5,
            max: 0.75,
            afterBuildTicks: (s: any) => {
              s.ticks = yTicks.map((v) => ({ value: v }));
            },
            afterFit: (s: any) => {
              s.width = 85;
            },
            ticks: {
              color: "#000",
              padding: 3,
              font: { family: SERIF, size: 20 },
              callback: (v: any) => String(v),
            },
            grid: {
              drawTicks: false,
              lineWidth: 1.2,
              color: (c: any) => (c.tick && yGridValues.includes(c.tick.value) ? "#b3b3b3" : "rgba(0,0,0,0)"),
            },
            border: { display: true, color: "#666", width: 2 },
          },
        },
      },
      plugins: [decorPlugin],
    });
    return () => chart.destroy();
  }, []);

  return (
    <div style={{ width: 963, height: 553 }}>
      <canvas ref={canvasRef} width={963} height={553} style={{ display: "block" }} />
    </div>
  );
}
